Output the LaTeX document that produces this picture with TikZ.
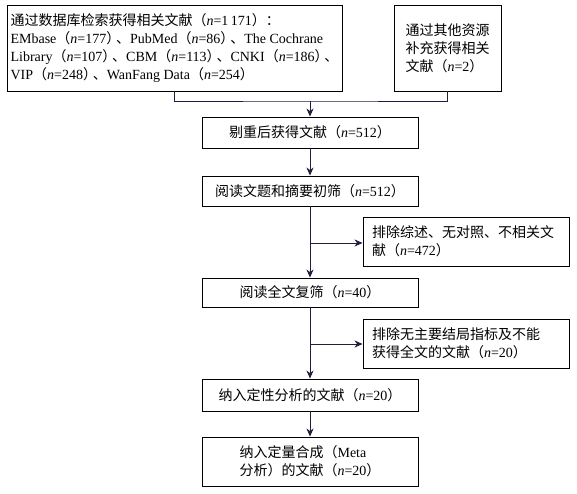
\documentclass[tikz,border=0pt]{standalone}
\usepackage{fontspec}
\setmainfont{Liberation Serif}
\newfontfamily\cjkfont{Noto Sans CJK SC}
\usepackage{xcolor}
\usetikzlibrary{arrows.meta,positioning}
\definecolor{ink}{RGB}{35,28,60}
\newcommand{\zh}[1]{{\cjkfont #1}}
\newcommand{\nval}[1]{\zh{（}\textit{n}=#1\zh{）}}
\newcommand{\dun}{\kern-0.3em\zh{、}}
\tikzset{
  box/.style={draw=black,line width=0.9pt,align=left,inner sep=0pt,
              font=\fontsize{14}{18}\selectfont},
  mbox/.style={box,minimum width=216,align=center},
  xbox/.style={box,minimum width=206,minimum height=49,text width=188},
  arr/.style={-{Stealth[length=8pt,width=7pt,inset=2.5pt]},draw=ink,line width=0.9pt},
  lnk/.style={draw=ink,line width=0.9pt},
}
\begin{document}
\begin{tikzpicture}[x=1pt,y=-1pt]
\useasboundingbox (0,0) rectangle (577,493);
% sources
\node[box,minimum width=335,minimum height=86] (db) at (174.5,48)
  {\zh{通过数据库检索获得相关文献（}\textit{n}=1\,171\zh{）：}\\
   EMbase\nval{177}\dun PubMed\nval{86}\dun The Cochrane\\
   Library\nval{107}\dun CBM\nval{113}\dun CNKI\nval{186}\dun\\
   VIP\nval{248}\dun WanFang Data\nval{254}};
\node[box,minimum width=107,minimum height=86] (other) at (447.5,48)
  {\zh{通过其他资源}\\ \zh{补充获得相关}\\ \zh{文献}\nval{2}};
% main flow
\node[mbox,minimum height=31] (dedup) at (310,132.5) {\zh{剔重后获得文献}\nval{512}};
\node[mbox,minimum height=30] (screen) at (310,191) {\zh{阅读文题和摘要初筛}\nval{512}};
\node[mbox,minimum height=29] (full) at (310,292.5) {\zh{阅读全文复筛}\nval{40}};
\node[mbox,minimum height=32] (qual) at (310,395) {\zh{纳入定性分析的文献}\nval{20}};
\node[mbox,minimum height=49,align=left] (quant) at (310,461.5)
  {\zh{纳入定量合成（}Meta\\ \zh{分析）的文献}\nval{20}};
% exclusions
\node[xbox] (ex1) at (466,241.5) {\zh{排除综述、无对照、不相关文}\\ \zh{献}\nval{472}};
\node[xbox] (ex2) at (466,343.5) {\zh{排除无主要结局指标及不能}\\ \zh{获得全文的文献}\nval{20}};
% connectors
\coordinate (merge) at (310,101);
\coordinate (b1) at (310,243);
\coordinate (b2) at (310,344);
\draw[lnk] (db.south) |- (merge) -| (other.south);
\draw[arr] (merge) -- (dedup.north);
\draw[arr] (dedup) -- (screen);
\draw[arr] (screen) -- (full);
\draw[arr] (full) -- (qual);
\draw[arr] (qual) -- (quant);
\draw[arr] (b1) -- (b1 -| ex1.west);
\draw[arr] (b2) -- (b2 -| ex2.west);
\end{tikzpicture}
\end{document}
